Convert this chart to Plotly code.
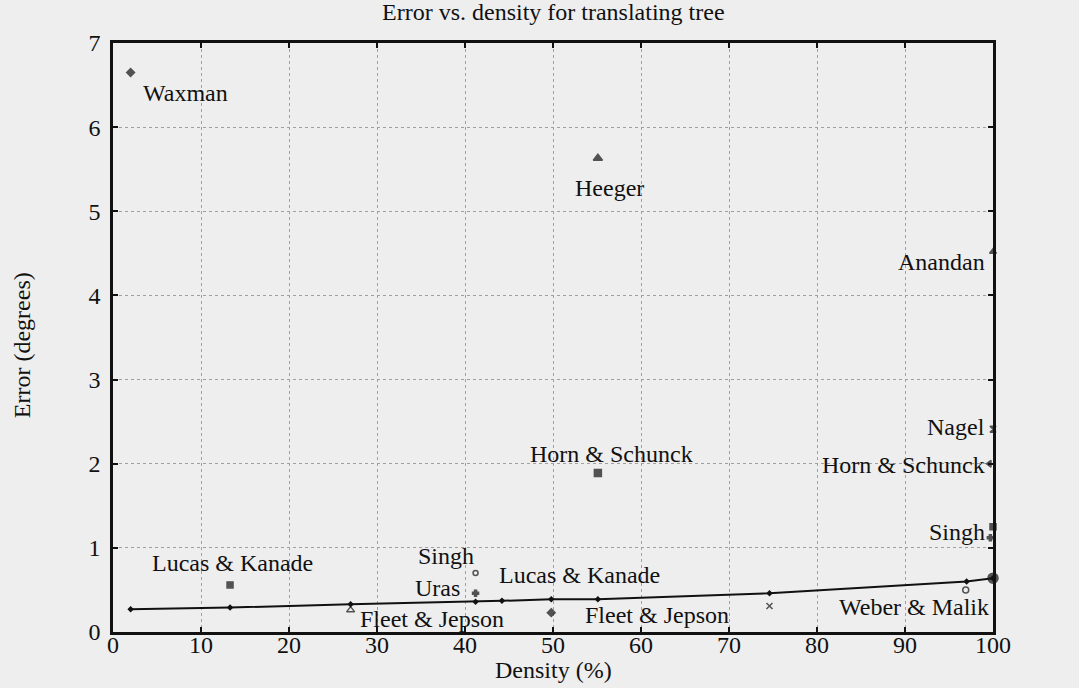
import plotly.graph_objects as go

# ---- data ----
line_density = [2, 13.3, 27, 41.2, 44.2, 49.8, 55.1, 74.6, 97, 100]
line_error = [0.27, 0.29, 0.33, 0.36, 0.37, 0.39, 0.39, 0.46, 0.60, 0.64]

point_names = ["Waxman", "Heeger", "Anandan", "Nagel", "Horn & Schunck", "Singh", "Singh b",
               "Bober", "Weber & Malik", "Lucas & Kanade", "Horn & Schunck", "Singh", "Uras",
               "Fleet & Jepson", "Fleet & Jepson", "unlabelled"]
point_density = [2, 55.1, 100, 100, 99.6, 100, 99.7, 100, 96.9, 13.3, 55.1, 41.2, 41.2, 27, 49.8, 74.6]
point_error = [6.65, 5.63, 4.52, 2.41, 2.0, 1.25, 1.12, 0.64, 0.50, 0.56, 1.89, 0.70, 0.46, 0.26, 0.23, 0.31]
point_symbol = ["diamond", "triangle-up", "triangle-up", "hourglass", "triangle-left", "square", "cross",
                "circle", "circle-open", "square", "square", "circle-open", "cross",
                "triangle-up-open", "diamond", "x-thin-open"]
point_size = [6, 8, 6, 6, 6, 6, 5, 10, 6, 6, 7, 5, 5, 7, 6, 6]

label_text = ["Waxman", "Heeger", "Anandan", "Nagel", "Horn & Schunck", "Singh", "Bober",
              "Weber & Malik", "Fleet & Jepson", "Fleet & Jepson", "Lucas & Kanade", "Singh",
              "Uras", "Lucas & Kanade", "Horn & Schunck"]
label_x = [8.2, 56.4, 99.2, 99.2, 99.2, 99.2, 101.9, 99.7, 53.5, 27.9, 13.6, 41.1, 39.5, 43.8, 56.6]
label_y = [6.41, 5.28, 4.40, 2.44, 1.99, 1.19, 0.46, 0.30, 0.20, 0.16, 0.82, 0.90, 0.52, 0.68, 2.12]
label_anchor = ["center", "center", "right", "right", "right", "right", "left", "right", "left",
                "left", "center", "right", "right", "left", "center"]

x_ticks = [0, 10, 20, 30, 40, 50, 60, 70, 80, 90, 100]
x_tick_labels = ["0", "10", "20", "30", "40", "50", "60", "70", "80", "90", "100"]

FONT = "Liberation Serif, Times New Roman, serif"
INK = "#111111"
BG = "#eeeeee"
FS = 24

fig = go.Figure()
fig.add_trace(go.Scatter(
    x=line_density, y=line_error, mode="lines+markers",
    line=dict(color=INK, width=2),
    marker=dict(symbol="diamond", size=5, color=INK),
    cliponaxis=False, showlegend=False, hoverinfo="skip"))
fig.add_trace(go.Scatter(
    x=point_density, y=point_error, mode="markers", text=point_names,
    marker=dict(symbol=point_symbol, size=point_size, color=INK,
                line=dict(color=INK, width=1.5)),
    cliponaxis=False, showlegend=False))

for t, x, y, a in zip(label_text, label_x, label_y, label_anchor):
    fig.add_annotation(x=x, y=y, xref="x", yref="y", text=t, showarrow=False,
                       xanchor=a, yanchor="middle", borderpad=0,
                       font=dict(family=FONT, size=FS, color=INK))

# x tick labels placed tight under the axis, as in the reference
for v, t in zip(x_ticks, x_tick_labels):
    fig.add_annotation(x=v, y=0, xref="x", yref="paper", yshift=-13, text=t, showarrow=False,
                       xanchor="center", yanchor="middle", borderpad=0,
                       font=dict(family=FONT, size=FS, color=INK))

fig.add_annotation(x=0.5, y=1, xref="paper", yref="paper", yshift=31,
                   text="Error vs. density for translating tree", showarrow=False,
                   xanchor="center", yanchor="middle", font=dict(family=FONT, size=FS, color=INK))
fig.add_annotation(x=0.5, y=0, xref="paper", yref="paper", yshift=-38,
                   text="Density (%)", showarrow=False,
                   xanchor="center", yanchor="middle", font=dict(family=FONT, size=FS, color=INK))
fig.add_annotation(x=0, y=0.487, xref="paper", yref="paper", xshift=-91,
                   text="Error (degrees)", showarrow=False, textangle=-90,
                   xanchor="center", yanchor="middle", font=dict(family=FONT, size=FS, color=INK))

axis_common = dict(showline=True, linewidth=2.5, linecolor=INK, mirror="ticks",
                   ticks="inside", ticklen=5, tickwidth=2, tickcolor=INK,
                   showgrid=True, gridcolor="#a0a0a0", griddash="dot", gridwidth=1,
                   zeroline=False, tickfont=dict(family=FONT, size=FS, color=INK))
fig.update_xaxes(range=[0, 100], tickvals=x_ticks, showticklabels=False, **axis_common)
fig.update_yaxes(range=[0, 7], dtick=1, tick0=0, ticklabelstandoff=5, **axis_common)

fig.update_layout(width=1079, height=688, margin=dict(l=113, r=86, t=43, b=56),
                  paper_bgcolor=BG, plot_bgcolor=BG, font=dict(family=FONT, color=INK))

fig.write_html("out.html", config={"displayModeBar": False},
               post_script="document.body.style.margin='0';document.body.style.background='#eeeeee';"
                           "document.body.style.overflow='hidden';")
